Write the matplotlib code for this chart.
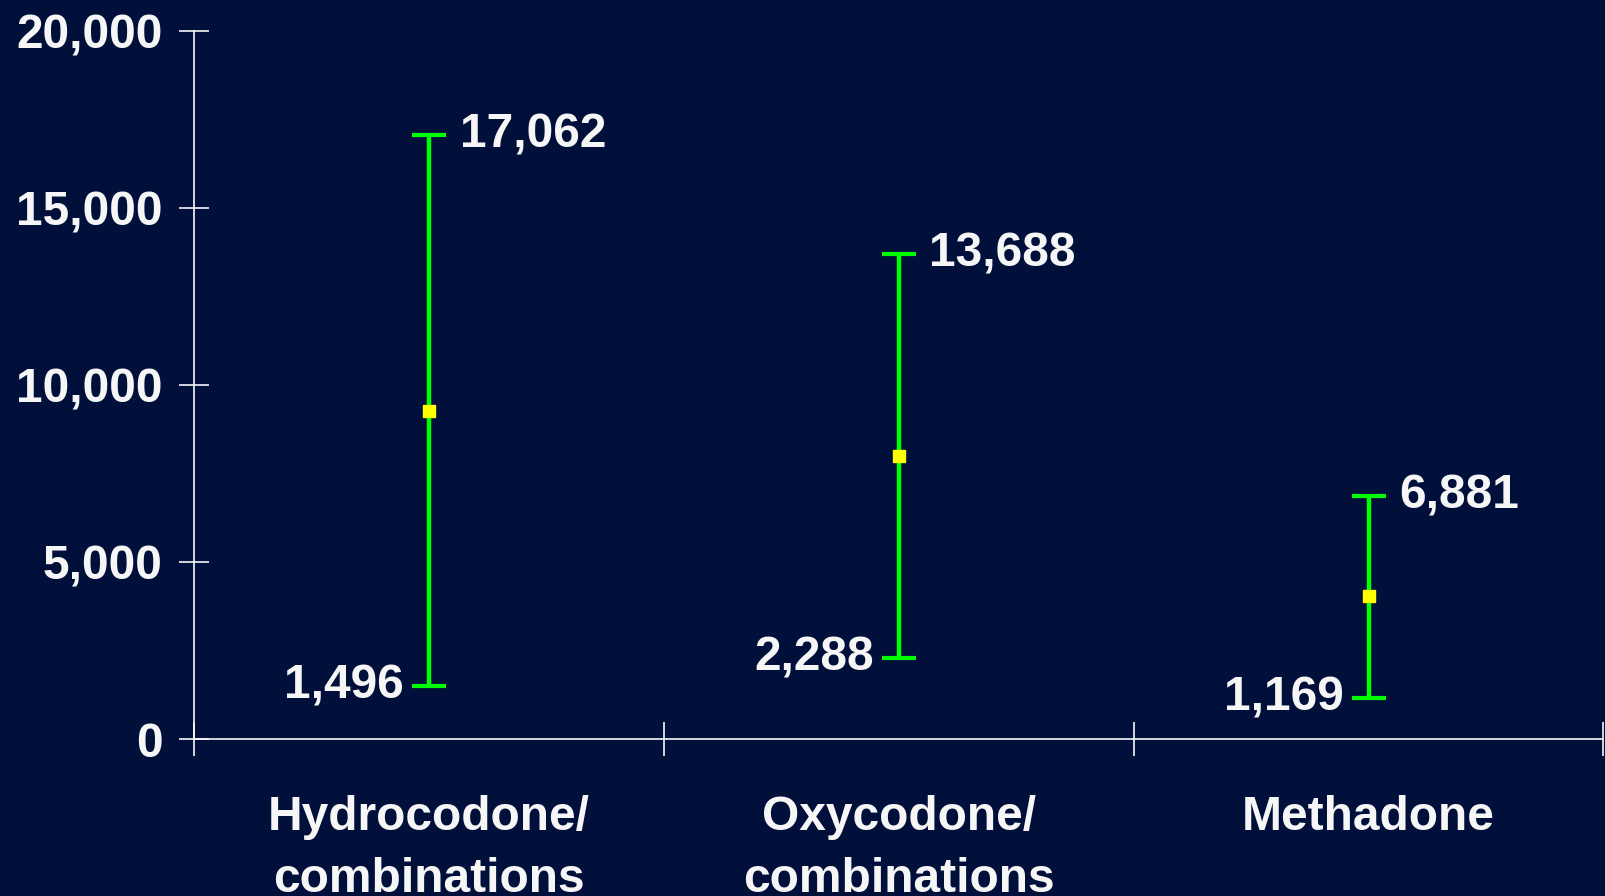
import numpy as np
import matplotlib.pyplot as plt

plt.rcParams['font.family'] = ['Liberation Sans', 'DejaVu Sans']

# data
drugs = ['Hydrocodone/\ncombinations', 'Oxycodone/\ncombinations', 'Methadone']
low = [1496, 2288, 1169]
high = [17062, 13688, 6881]
mid = [9280, 7990, 4030]

bg = '#00103a'
fg = '#f6f6f6'
fs = 34.5

fig = plt.figure(figsize=(16.05, 8.96), dpi=100, facecolor=bg)
ax = fig.add_axes([0.121, 0.175, 0.878, 0.7905], facecolor=bg)

xpos = np.arange(len(drugs)) + 0.5
mid = np.array(mid)
yerr = [mid - np.array(low), np.array(high) - mid]

ax.errorbar(xpos, mid, yerr=yerr, fmt='s', color='#ffff00', markersize=8,
            ecolor='#00ff00', elinewidth=3.2, capsize=12, capthick=3, zorder=3)

for x, lo, hi in zip(xpos, low, high):
    ax.annotate(f'{hi:,}', (x, hi), xytext=(22, 0), textcoords='offset points',
                ha='left', va='center', color=fg, fontsize=fs, fontweight='bold')
    ax.annotate(f'{lo:,}', (x, lo), xytext=(-18, 0), textcoords='offset points',
                ha='right', va='center', color=fg, fontsize=fs, fontweight='bold')

ax.set_xlim(0, 3)
ax.set_ylim(0, 20000)

ax.set_yticks(np.arange(0, 20001, 5000))
ax.set_yticklabels([f'{v:,}' for v in range(0, 20001, 5000)])
ax.set_xticks([0, 1, 2, 3])
ax.set_xticklabels([])
ax.set_xticks(xpos, minor=True)
ax.set_xticklabels(drugs, minor=True)

ax.tick_params(axis='y', direction='inout', length=22, width=1.2, color=fg,
               labelcolor=fg, labelsize=fs, pad=12)
ax.tick_params(axis='x', which='major', direction='inout', length=25, width=1.2, color=fg)
ax.tick_params(axis='x', which='minor', length=0, labelcolor=fg, labelsize=fs, pad=40)
for lab in ax.get_yticklabels() + ax.get_xticklabels(minor=True):
    lab.set_fontweight('bold')
for lab in ax.get_xticklabels(minor=True):
    lab.set_verticalalignment('top')
    lab.set_linespacing(1.5)

for s in ['top', 'right']:
    ax.spines[s].set_visible(False)
for s in ['left', 'bottom']:
    ax.spines[s].set_color(fg)
    ax.spines[s].set_linewidth(1.2)

fig.savefig('out.png', dpi=100, facecolor=bg)
